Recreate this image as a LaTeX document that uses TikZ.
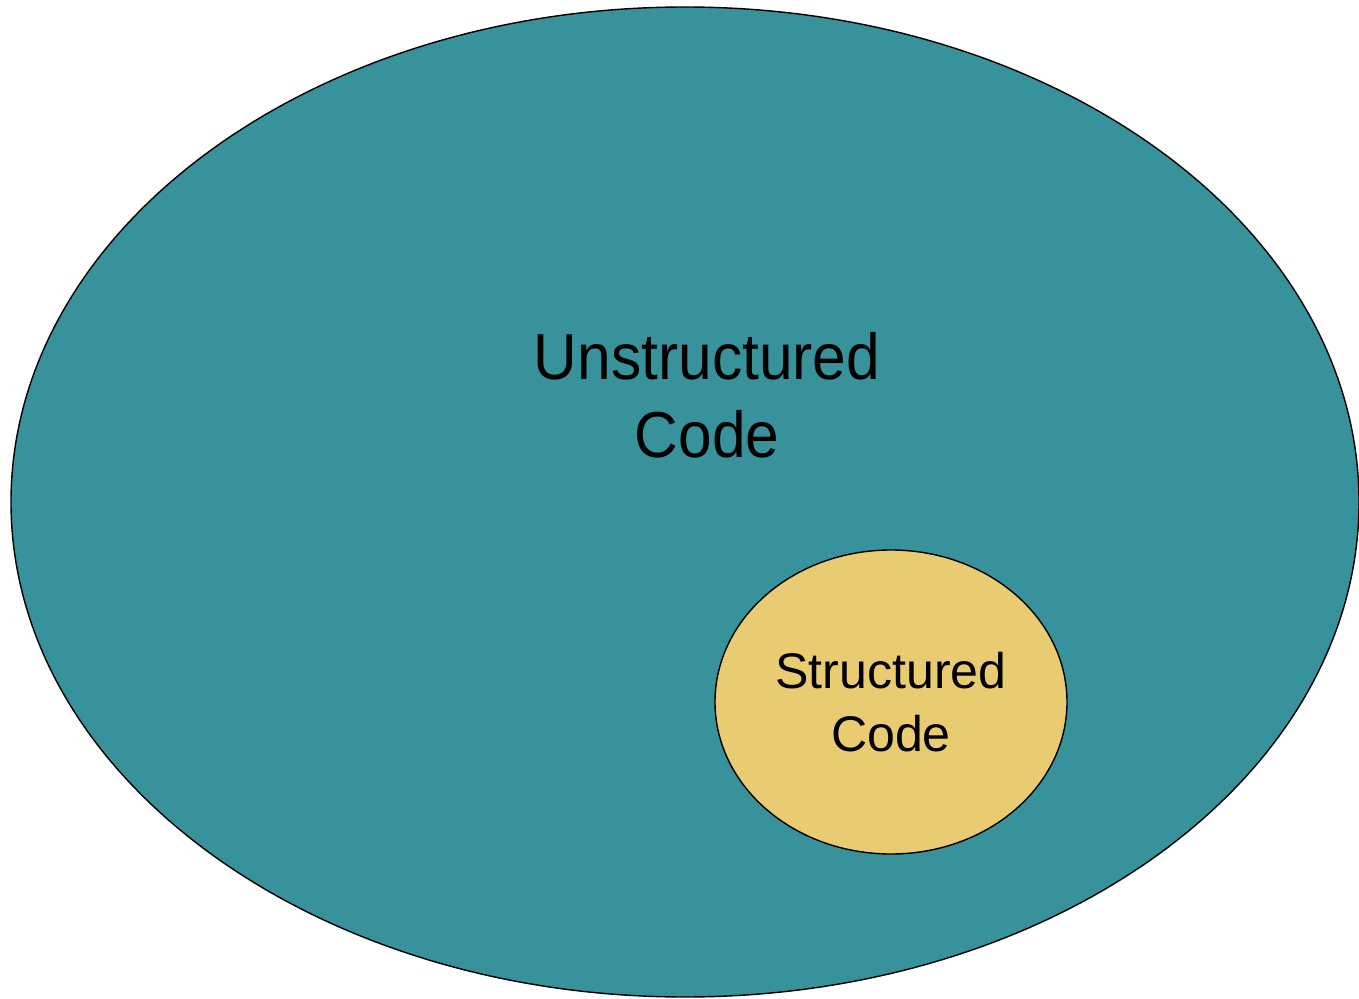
\documentclass[tikz,border=0pt]{standalone}
\usepackage{fontspec}
\setmainfont{Liberation Sans}
\newfontfamily\narrowfont[FakeStretch=0.93]{Liberation Sans}
\usetikzlibrary{shapes.geometric}

\definecolor{tealfill}{RGB}{56,146,155}
\definecolor{goldfill}{RGB}{233,203,114}

\begin{document}
\begin{tikzpicture}[
  blob/.style={ellipse, draw=black, line width=0.8pt, inner sep=0pt},
  label/.style={align=center, inner sep=0pt, text=black}
]
\useasboundingbox (0,0) rectangle (27.18,19.96);
\clip (0,0) rectangle (27.18,19.96);

\node[blob, fill=tealfill, minimum width=26.96cm, minimum height=19.8cm] (unstr) at (13.70,9.92) {};
\node[blob, fill=goldfill, minimum width=7.04cm, minimum height=6.08cm] (str) at (17.82,5.92) {};

\node[label, font={\narrowfont\fontsize{37}{44.4}\selectfont}] (unstrtext) at (14.14,12.06) {Unstructured\\Code};
\node[label, font={\fontsize{28.5}{36.3}\selectfont}] (strtext) at (str.center) {Structured\\Code};

\end{tikzpicture}
\end{document}
